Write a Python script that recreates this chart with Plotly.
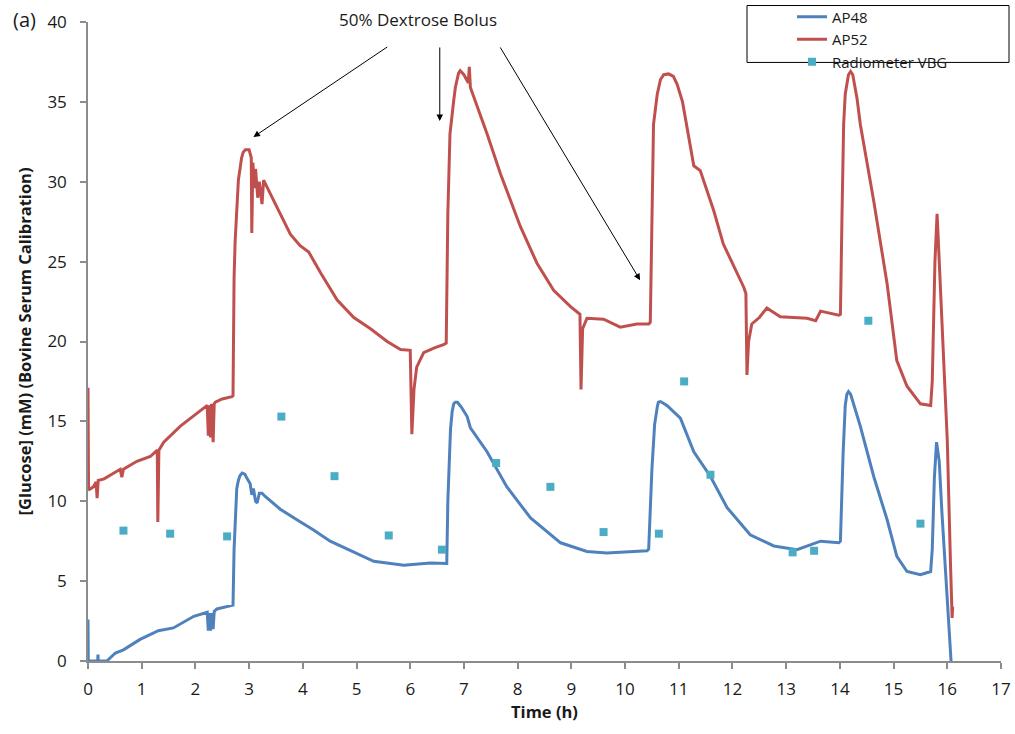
import plotly.graph_objects as go

# AP52 (red) sensor trace
ap52_t = [0.0, 0.01, 0.1, 0.15, 0.17, 0.19, 0.3, 0.45, 0.6, 0.63, 0.66, 0.91, 1.16, 1.29, 1.30, 1.32,
          1.41, 1.72, 2.0, 2.22, 2.24, 2.26, 2.28, 2.30, 2.33, 2.35, 2.37, 2.5, 2.68, 2.70, 2.72,
          2.74, 2.80, 2.86, 2.89, 2.93, 3.00, 3.04, 3.05, 3.07, 3.10, 3.12, 3.16, 3.19, 3.24, 3.27, 3.52,
          3.77, 3.95, 4.11, 4.33, 4.64, 4.95, 5.26, 5.57, 5.82, 6.00, 6.03, 6.07, 6.12, 6.25, 6.45,
          6.62, 6.67, 6.70, 6.74, 6.81, 6.84, 6.90, 6.93, 7.0, 7.08, 7.10, 7.12, 7.43, 7.68, 8.05, 8.36,
          8.67, 8.98, 9.16, 9.18, 9.21, 9.29, 9.60, 9.91, 10.22, 10.44, 10.47, 10.50, 10.53, 10.6, 10.66,
          10.72, 10.81, 10.9, 10.97, 11.07, 11.18, 11.28, 11.40, 11.65, 11.83, 12.21, 12.25, 12.27, 12.30,
          12.36, 12.50, 12.64, 12.89, 13.39, 13.55, 13.64, 13.98, 14.01, 14.04, 14.07, 14.1, 14.16, 14.20,
          14.24, 14.32, 14.38, 14.63, 14.88, 15.06, 15.25, 15.50, 15.69, 15.72, 15.77, 15.81, 15.85,
          15.94, 16.0, 16.06, 16.09, 16.10]
ap52_g = [17.1, 10.7, 10.9, 11.2, 10.2, 11.3, 11.4, 11.7, 12.0, 11.5, 12.0, 12.5, 12.8, 13.2, 8.7, 13.2,
          13.7, 14.7, 15.4, 16.0, 14.1, 16.0, 14.0, 16.1, 13.7, 16.1, 16.2, 16.4, 16.55, 16.6, 24.0,
          26.3, 30.1, 31.5, 31.85, 32.0, 32.0, 31.5, 26.8, 31.2, 29.6, 30.8, 29.0, 30.0, 28.6, 30.1, 28.4,
          26.7, 26.0, 25.6, 24.3, 22.6, 21.5, 20.8, 20.0, 19.5, 19.45, 14.2, 17.0, 18.4, 19.3, 19.6,
          19.8, 19.9, 28.0, 33.0, 35.1, 35.9, 36.8, 36.95, 36.7, 36.2, 37.2, 35.9, 33.0, 30.5, 27.2, 24.9,
          23.2, 22.2, 21.7, 17.0, 20.8, 21.45, 21.4, 20.9, 21.1, 21.1, 21.2, 28.0, 33.6, 35.5, 36.4,
          36.7, 36.75, 36.6, 36.1, 35.0, 33.0, 31.0, 30.7, 28.2, 26.1, 23.4, 23.0, 17.9, 20.0,
          21.1, 21.5, 22.1, 21.55, 21.45, 21.3, 21.9, 21.65, 21.7, 28.0, 33.6, 35.5, 36.7, 36.9,
          36.7, 35.2, 33.6, 28.8, 23.6, 18.8, 17.2, 16.1, 16.0, 17.5, 25.0, 28.0, 25.0,
          17.6, 13.8, 6.0, 2.7, 3.4]

# AP48 (blue) sensor trace
ap48_t = [0.0, 0.005, 0.18, 0.186, 0.19, 0.35, 0.51, 0.66, 0.97, 1.31, 1.59, 1.97, 2.22, 2.24, 2.26,
          2.28, 2.31, 2.33, 2.35, 2.40, 2.68, 2.70, 2.72, 2.75, 2.77, 2.80, 2.83, 2.87, 2.92, 2.95, 3.02,
          3.05, 3.08, 3.12, 3.15, 3.19, 3.24, 3.30, 3.58, 3.89, 4.20, 4.51, 4.95, 5.32, 5.88, 6.37, 6.68,
          6.70, 6.75, 6.78, 6.81, 6.84, 6.88, 6.95, 7.06, 7.12, 7.43, 7.80, 8.24, 8.80, 9.29, 9.66, 10.41,
          10.44, 10.50, 10.55, 10.6, 10.62, 10.66, 10.78, 11.03, 11.28, 11.59, 11.9, 12.33, 12.77, 13.2,
          13.64, 13.98, 14.01, 14.06, 14.1, 14.13, 14.16, 14.2, 14.28, 14.38, 14.63, 14.88, 15.06, 15.25,
          15.50, 15.69, 15.72, 15.76, 15.80, 15.85, 15.9, 15.99, 16.07]
ap48_g = [2.6, 0.0, 0.0, 0.4, 0.0, 0.0, 0.5, 0.7, 1.35, 1.9, 2.07, 2.8, 3.05, 1.9, 3.0,
          1.9, 3.0, 2.0, 3.1, 3.26, 3.45, 3.5, 7.0, 10.0, 10.8, 11.3, 11.6, 11.76, 11.7, 11.5, 11.1,
          10.4, 10.8, 10.0, 9.9, 10.5, 10.5, 10.3, 9.5, 8.84, 8.2, 7.5, 6.8, 6.24, 6.0, 6.14, 6.1,
          10.0, 14.5, 15.6, 16.1, 16.2, 16.2, 15.9, 15.3, 14.6, 13.1, 10.9, 8.95, 7.4, 6.86, 6.76, 6.9,
          7.0, 12.0, 14.8, 15.9, 16.2, 16.24, 16.0, 15.2, 13.1, 11.55, 9.6, 7.9, 7.2, 6.97,
          7.5, 7.4, 7.5, 13.0, 16.0, 16.7, 16.86, 16.7, 15.8, 14.7, 11.55, 8.84, 6.55, 5.6,
          5.4, 5.6, 7.0, 11.5, 13.7, 12.5, 9.3, 4.0, 0.0]

# Radiometer VBG samples
vbg_t = [0.66, 1.53, 2.59, 3.60, 4.59, 5.60, 6.59, 7.60, 8.61, 9.60, 10.63, 11.10, 11.59, 13.12, 13.52, 14.53, 15.50]
vbg_g = [8.16, 7.97, 7.8, 15.3, 11.57, 7.86, 6.97, 12.39, 10.9, 8.07, 7.97, 17.5, 11.66, 6.8, 6.9, 21.3, 8.6]

x_ticks = list(range(0, 18))
y_ticks = list(range(0, 41, 5))

FONT = "Open Sans"
AXC = "#8c8c8c"
TXT = "#1a1a1a"

fig = go.Figure()
fig.add_trace(go.Scatter(x=ap48_t, y=ap48_g, mode="lines", name="AP48",
                         line=dict(color="#4F81BD", width=3)))
fig.add_trace(go.Scatter(x=ap52_t, y=ap52_g, mode="lines", name="AP52",
                         line=dict(color="#C0504D", width=3)))
fig.add_trace(go.Scatter(x=vbg_t, y=vbg_g, mode="markers", name="Radiometer VBG",
                         marker=dict(symbol="square", size=8, color="#4BACC6")))

# the page body margin is removed by post_script, so pixel coordinates map 1:1
W, H = 1015, 734
PL, PR, PT, PB = 88, 1001, 21.5, 661.5
PW, PH = PR - PL, PB - PT


def px(x):
    return (x - PL) / PW


def py(y):
    return (PB - y) / PH


fig.update_layout(
    width=W, height=H,
    margin=dict(l=PL, r=W - PR, t=PT, b=H - PB, autoexpand=False),
    paper_bgcolor="white", plot_bgcolor="white",
    font=dict(family=FONT, size=17, color=TXT),
    showlegend=True,
    legend=dict(x=px(792), y=py(0), xanchor="left", yanchor="top",
                bgcolor="rgba(0,0,0,0)", borderwidth=0,
                font=dict(family=FONT, size=15, color=TXT),
                tracegroupgap=0, itemwidth=30),
    xaxis=dict(range=[0, 17], tickvals=x_ticks, ticktext=[str(v) for v in x_ticks],
               showgrid=False, zeroline=False, showline=True, linecolor=AXC, linewidth=1.5,
               ticks="outside", ticklen=6, tickcolor=AXC, tickwidth=1.5,
               ticklabelstandoff=6, tickfont=dict(size=17),
               title=dict(text="<b>Time (h)</b>", font=dict(family=FONT, size=16.5), standoff=6)),
    yaxis=dict(range=[0, 40], tickvals=y_ticks, ticktext=[str(v) for v in y_ticks],
               showgrid=False, zeroline=False, showline=True, linecolor=AXC, linewidth=1.5,
               ticks="outside", ticklen=6, tickcolor=AXC, tickwidth=1.5,
               ticklabelstandoff=10, tickfont=dict(size=17),
               title=dict(text="<b>[Glucose] (mM) (Bovine Serum Calibration)</b>",
                          font=dict(family=FONT, size=16.5), standoff=12)),
)

# legend frame
fig.add_shape(type="rect", xref="paper", yref="paper",
              x0=px(747), x1=px(1009), y0=py(62), y1=py(5),
              line=dict(color="black", width=1), fillcolor="rgba(0,0,0,0)")

# panel label
fig.add_annotation(text="(a)", xref="paper", yref="paper", x=px(24), y=py(19),
                   xanchor="center", yanchor="middle", showarrow=False,
                   font=dict(family=FONT, size=20, color=TXT))
# bolus label
fig.add_annotation(text="50% Dextrose Bolus", xref="paper", yref="paper",
                   x=px(418), y=py(19),
                   xanchor="center", yanchor="middle", showarrow=False,
                   font=dict(family=FONT, size=17, color=TXT))

arrows = [((3.08, 32.8), (5.6, 38.5)),
          ((6.55, 33.8), (6.55, 38.5)),
          ((10.28, 23.84), (7.66, 38.5))]
for (hx, hy), (tx, ty) in arrows:
    fig.add_annotation(x=hx, y=hy, ax=tx, ay=ty, xref="x", yref="y", axref="x", ayref="y",
                       text="", showarrow=True, arrowhead=2, arrowsize=1.3, arrowwidth=1,
                       arrowcolor="black")

fig.write_html("out.html",
               config={"displayModeBar": False},
               post_script="document.body.style.margin='0';document.body.style.overflow='hidden';")
